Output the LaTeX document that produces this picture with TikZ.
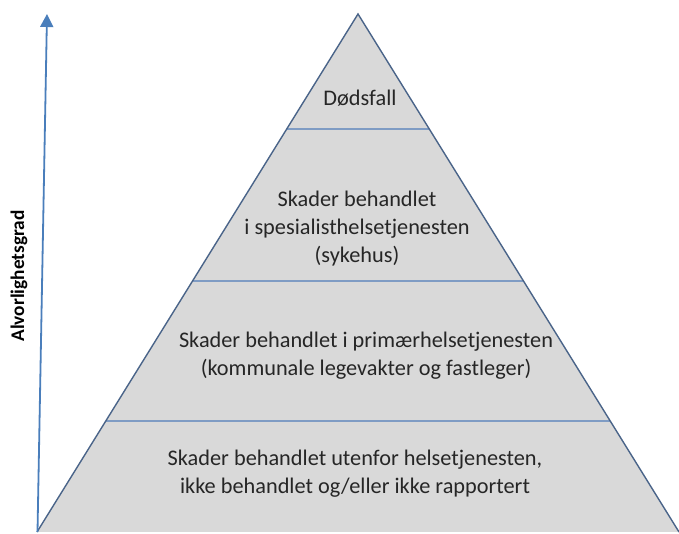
\documentclass[tikz,border=0pt]{standalone}
\usepackage{fontspec}
\setmainfont{Carlito}
\usepackage{tikz}
\usetikzlibrary{arrows.meta,calc}
\definecolor{pyfill}{HTML}{D9D9D9}
\definecolor{pyedge}{HTML}{4A6489}
\definecolor{pysep}{HTML}{7F9CC4}
\definecolor{axblue}{HTML}{4A7EBB}
\definecolor{pytext}{HTML}{262626}
\tikzset{
  pyramid/.style={draw=pyedge, line width=1.4pt, fill=pyfill, line join=miter},
  levelline/.style={draw=pysep, line width=1.3pt},
  axisarrow/.style={-{Triangle[length=13pt,width=13pt]}, draw=axblue, fill=axblue, line width=1.8pt},
  leveltext/.style={align=center, font=\fontsize{22.3}{28}\selectfont, text=pytext, inner sep=0pt},
  axislabel/.style={rotate=90, font=\fontsize{19.3}{22}\selectfont\bfseries, text=black, inner sep=0pt}
}

\begin{document}
\begin{tikzpicture}[x=1pt, y=1pt]
        \useasboundingbox (0,0) rectangle (679,534);

        \coordinate (apex) at (358,520);
        \coordinate (bl) at (37,2);
        \coordinate (br) at (679,2);

        % pyramid body
        \fill[pyfill] (apex) -- (bl) -- (br) -- cycle;

        % level borders
        \draw[levelline] ($(apex)!0.222!(bl)$) -- ($(apex)!0.222!(br)$);
        \draw[levelline] ($(apex)!0.5154!(bl)$) -- ($(apex)!0.5154!(br)$);
        \draw[levelline] ($(apex)!0.7857!(bl)$) -- ($(apex)!0.7857!(br)$);

        \draw[pyramid, fill=none] (bl) -- (apex) -- (br);

        \node[leveltext] (death) at (360,436) {Dødsfall};
        \node[leveltext] (spec) at (357,305) {Skader behandlet\\i spesialisthelsetjenesten\\(sykehus)};
        \node[leveltext] (prim) at (366,178) {Skader behandlet i primærhelsetjenesten\\(kommunale legevakter og fastleger)};
        \node[leveltext] (out) at (355,60) {Skader behandlet utenfor helsetjenesten,\\ikke behandlet og/eller ikke rapportert};

        % severity axis
        \coordinate (axisbot) at (37.5,2);
        \coordinate (axistop) at (47,520);
        \draw[axisarrow] (axisbot) -- (axistop);
        \node[axislabel] (sev) at (19,258) {Alvorlighetsgrad};
    \end{tikzpicture}
\end{document}
